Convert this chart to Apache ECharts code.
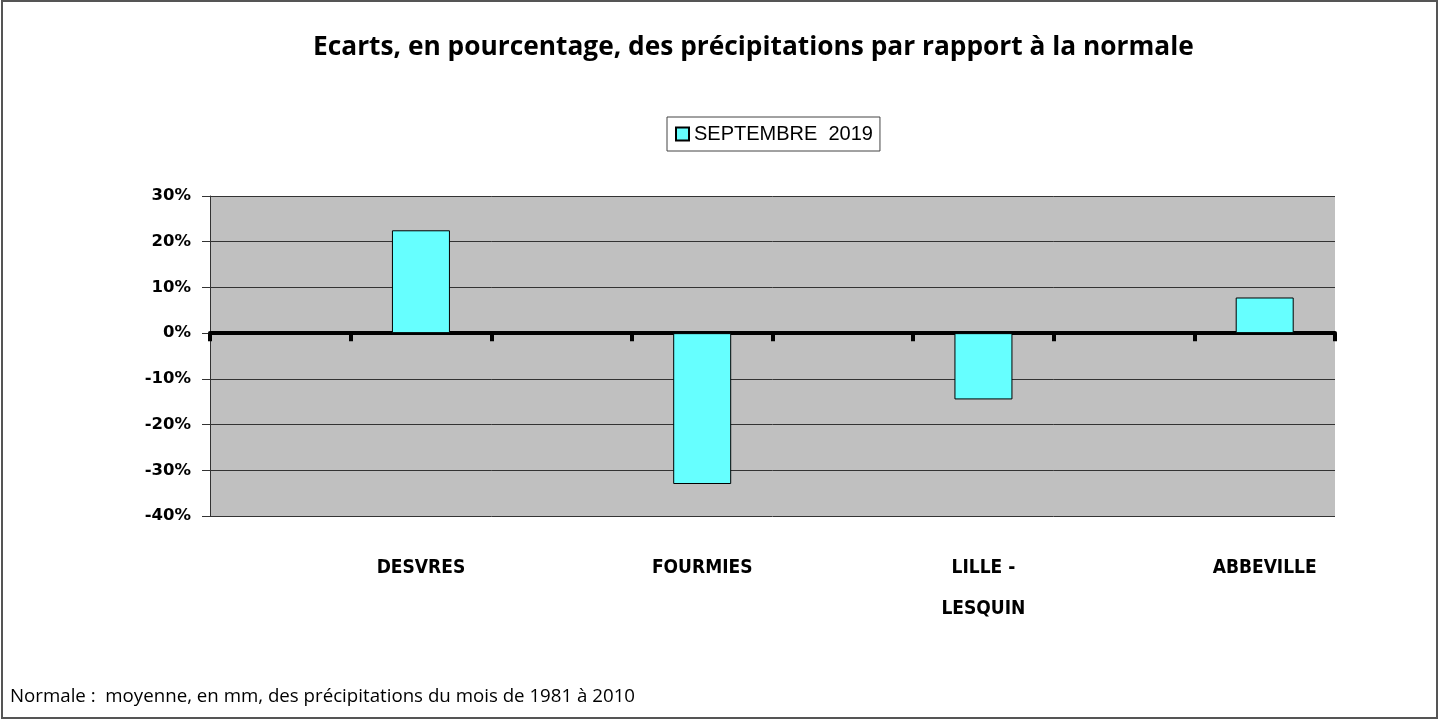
<!DOCTYPE html>
<html>
<head>
<meta charset="utf-8">
<title>Ecarts des précipitations</title>
<script src="https://cdn.jsdelivr.net/npm/echarts@6/dist/echarts.min.js"></script>
<style>
  html, body { margin: 0; padding: 0; background: #fff; }
  #chart { width: 1440px; height: 720px; }
</style>
</head>
<body>
<div id="chart"></div>
<script>
(function () {
  'use strict';

  // stations, with an empty slot before each one (as in the original sheet)
  var stations = ['', 'DESVRES', ' ', 'FOURMIES', '  ', 'LILLE -\nLESQUIN', '   ', 'ABBEVILLE'];
  // écarts en % par rapport à la normale
  var ecarts = [null, 22.5, null, -33, null, -14.5, null, 7.8];
  var serieName = 'SEPTEMBRE  2019';
  var yMin = -40, yMax = 30, yStep = 10;

  var chart = echarts.init(document.getElementById('chart'));

  chart.setOption({
    animation: false,
    backgroundColor: '#fff',
    title: {
      text: 'Ecarts, en pourcentage, des précipitations par rapport à la normale',
      left: 308,
      top: 30,
      textStyle: { fontFamily: 'Open Sans', fontWeight: 'bold', fontSize: 26.3, color: '#000' }
    },
    legend: {
      data: [serieName],
      left: 667,
      top: 117,
      padding: [7, 7, 7, 8],
      borderColor: '#444',
      borderWidth: 1,
      itemWidth: 13,
      itemHeight: 13,
      itemGap: 6,
      icon: 'rect',
      textStyle: { fontFamily: 'Liberation Sans', fontSize: 20, color: '#000' }
    },
    grid: { left: 210, right: 105, top: 196, bottom: 204, backgroundColor: '#c0c0c0', show: true, borderWidth: 0 },
    xAxis: [{
      type: 'category',
      data: stations,
      axisLine: { onZero: true, lineStyle: { color: '#000', width: 4 } },
      axisTick: { show: true, length: 8, lineStyle: { color: '#000', width: 4 } },
      axisLabel: { show: false },
      splitLine: { show: false }
    }, {
      type: 'category',
      data: stations,
      position: 'bottom',
      axisLine: { show: false, onZero: false },
      axisTick: { show: false },
      axisLabel: {
        interval: 0,
        margin: 32,
        lineHeight: 41,
        fontFamily: 'DejaVu Sans Condensed, sans-serif',
        fontWeight: 'bold',
        fontSize: 19,
        color: '#000'
      }
    }],
    yAxis: {
      type: 'value',
      min: yMin,
      max: yMax,
      interval: yStep,
      axisLine: { show: true, lineStyle: { color: '#333', width: 1 } },
      axisTick: { show: true, length: 8, lineStyle: { color: '#333' } },
      axisLabel: {
        formatter: '{value}%',
        margin: 19,
        fontFamily: 'DejaVu Sans',
        fontWeight: 'bold',
        fontSize: 16.5,
        color: '#000'
      },
      splitLine: { show: true, lineStyle: { color: '#333', width: 1 } }
    },
    series: [{
      name: serieName,
      type: 'bar',
      xAxisIndex: 0,
      data: ecarts,
      barWidth: 58,
      itemStyle: { color: '#66ffff', borderColor: '#000', borderWidth: 1 }
    }],
    graphic: [{
      type: 'rect',
      shape: { x: 2, y: 1, width: 1435, height: 717 },
      style: { fill: 'none', stroke: '#555', lineWidth: 2 },
      silent: true
    }, {
      type: 'text',
      left: 10,
      top: 687,
      style: {
        text: 'Normale :  moyenne, en mm, des précipitations du mois de 1981 à 2010',
        fontFamily: 'Open Sans',
        fontSize: 18.7,
        fill: '#000'
      }
    }]
  });

  window.addEventListener('resize', chart.resize);
})();
</script>
</body>
</html>
